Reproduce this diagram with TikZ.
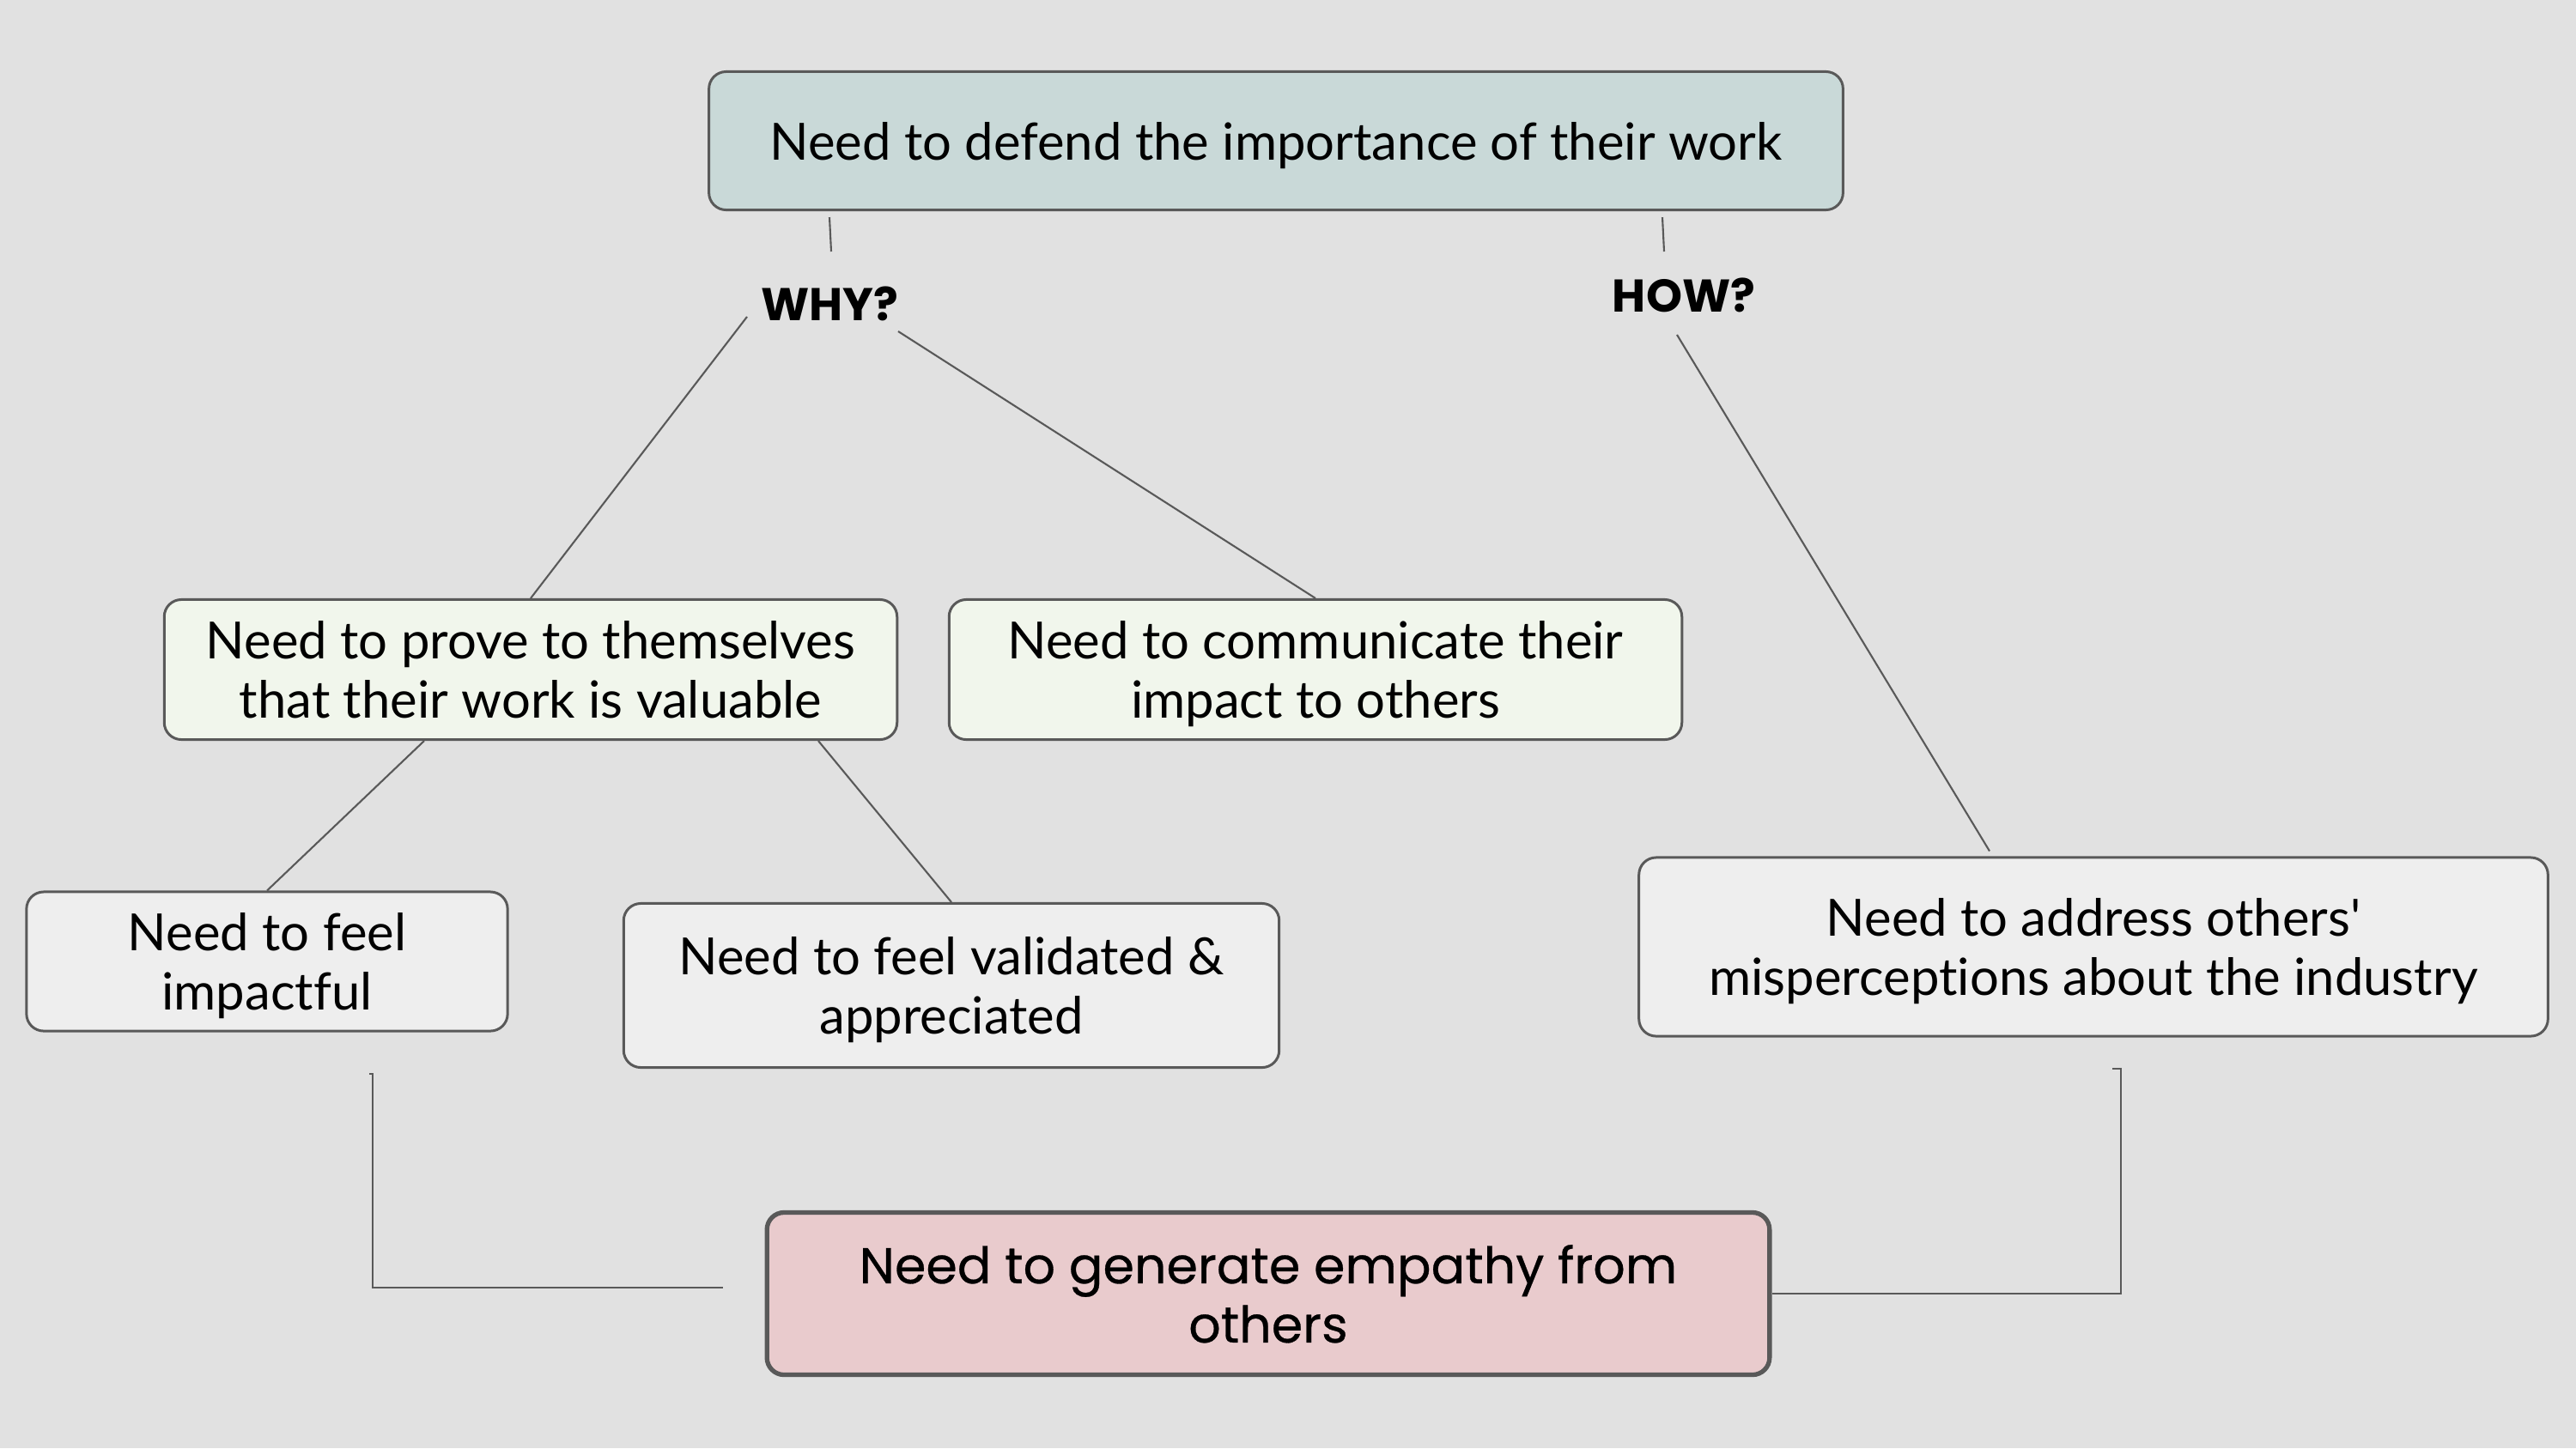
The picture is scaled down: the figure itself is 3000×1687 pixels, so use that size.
\documentclass[tikz,border=0pt]{standalone}
\usepackage{fontspec}
\setmainfont{Lato}[Ligatures={CommonOff,TeXOff}]
\newfontfamily\qfont{Poppins}
\newfontfamily\keyfont{Poppins}[FakeBold=0.5]
\usepackage{xcolor}
\usetikzlibrary{positioning,calc}

\definecolor{bgcol}{HTML}{E1E1E1}
\definecolor{linecol}{HTML}{595959}
\definecolor{topfill}{HTML}{C9D9D8}
\definecolor{whyfill}{HTML}{F1F6EC}
\definecolor{leaffill}{HTML}{EEEEEE}
\definecolor{keyfill}{HTML}{E9CBCD}

\begin{document}
\begin{tikzpicture}[
  x=0.01cm, y=-0.01cm,
  font=\fontsize{17}{19.6}\selectfont,
  box/.style={draw=linecol, line width=0.85pt, rounded corners=0.2cm, align=center, inner sep=0pt,
              text depth=0pt},
  qlabel/.style={font=\qfont\bfseries\fontsize{15.2}{18}\selectfont, inner sep=0pt},
  conn/.style={draw=linecol, line width=0.6pt}
]
  \fill[bgcol] (0,0) rectangle (3000,1687);
  \useasboundingbox (0,0) rectangle (3000,1687);

  % top goal
  \node[box, fill=topfill, minimum width=13.2cm, minimum height=1.61cm] (defend) at (1486,164)
    {Need to defend the importance of their work};
  \node[qlabel] (why) at (966,354) {WHY?};
  \node[qlabel] (how) at (1961,344) {HOW?};

  % why branch
  \node[box, fill=whyfill, minimum width=8.53cm, minimum height=1.63cm] (prove) at (618,780)
    {Need to prove to themselves\\that their work is valuable};
  \node[box, fill=whyfill, minimum width=8.53cm, minimum height=1.63cm] (comm) at (1532,780)
    {Need to communicate their\\impact to others};
  \node[box, fill=leaffill, minimum width=5.6cm, minimum height=1.62cm] (impact) at (311,1120)
    {Need to feel\\impactful};
  \node[box, fill=leaffill, minimum width=7.63cm, minimum height=1.91cm] (valid) at (1108,1148)
    {Need to feel validated \&\\appreciated};

  % how branch
  \node[box, fill=leaffill, minimum width=10.58cm, minimum height=2.08cm] (address) at (2438,1103)
    {Need to address others'\\misperceptions about the industry};

  % shared need
  \node[box, fill=keyfill, line width=1.5pt, minimum width=11.67cm, minimum height=1.89cm,
        font=\keyfont\fontsize{16.7}{19.6}\selectfont] (empathy) at (1477,1507)
    {Need to generate empathy from\\others};

  \draw[conn] ($(defend.south)+(-520,7)$) -- ($(why)+(2,-61)$);
  \draw[conn] ($(defend.south)+(450,7)$) -- ($(how)+(-23,-51)$);
  \draw[conn] ($(why)+(-96,15)$) -- (prove.north);
  \draw[conn] ($(why)+(80,32)$) -- (comm.north);
  \draw[conn] ($(how)+(-8,46)$) -- ($(address.north)+(-121,-6)$);
  \draw[conn] ($(prove.south)+(-124,0)$) -- (impact.north);
  \draw[conn] ($(prove.south)+(335,0)$) -- (valid.north);
  \draw[conn] ($(impact.south)+(119,48)$) -- ++(4,0) |- ($(empathy.west)+(-49,-7)$);
  \draw[conn] ($(address.south)+(22,36)$) -- ++(10,0) |- (empathy.east);
\end{tikzpicture}
\end{document}
